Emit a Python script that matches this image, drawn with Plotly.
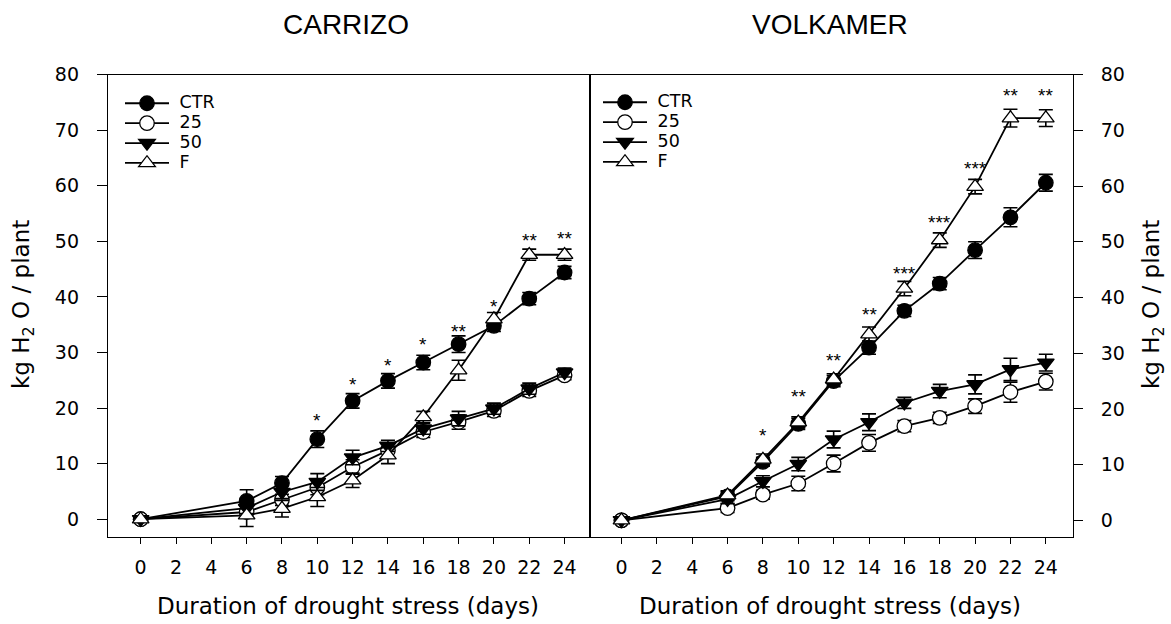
import plotly.graph_objects as go

days = [0, 6, 8, 10, 12, 14, 16, 18, 20, 22, 24]
x_ticks = [0, 2, 4, 6, 8, 10, 12, 14, 16, 18, 20, 22, 24]
y_ticks = [0, 10, 20, 30, 40, 50, 60, 70, 80]

# CARRIZO
car_ctr = [0, 3.3, 6.5, 14.4, 21.3, 24.9, 28.2, 31.5, 34.8, 39.7, 44.4]
car_ctr_err = [0.3, 2.0, 1.2, 1.5, 1.3, 1.3, 1.3, 1.5, 1.0, 1.1, 1.1]
car_25 = [0, 1.3, 3.5, 5.7, 9.4, 12.4, 15.7, 17.5, 19.5, 23.1, 25.9]
car_25_err = [0.3, 1.0, 1.0, 1.3, 1.3, 1.2, 1.0, 1.3, 1.0, 1.0, 0.8]
car_50 = [0, 2.0, 4.9, 6.7, 11.1, 13.2, 16.3, 18.1, 19.9, 23.5, 26.4]
car_50_err = [0.3, 1.0, 1.2, 1.5, 1.3, 1.0, 1.0, 1.3, 1.0, 1.0, 0.8]
car_f = [0, 0.7, 1.9, 4.0, 7.0, 11.5, 18.4, 26.8, 36.0, 47.6, 47.6]
car_f_err = [0.3, 2.0, 1.5, 1.7, 1.3, 1.5, 1.0, 1.8, 1.2, 1.0, 1.0]
car_sig_x = [10, 12, 14, 16, 18, 20, 22, 24]
car_sig_y = [18.4, 24.9, 28.3, 32.1, 34.5, 39.0, 50.9, 51.2]
car_sig = ["*", "*", "*", "*", "**", "*", "**", "**"]

# VOLKAMER
vol_ctr = [0, 4.3, 10.5, 17.3, 25.0, 31.0, 37.6, 42.5, 48.5, 54.4, 60.6]
vol_ctr_err = [0.3, 0.8, 0.8, 1.0, 1.0, 1.2, 1.0, 1.1, 1.5, 1.7, 1.5]
vol_25 = [0, 2.2, 4.6, 6.6, 10.2, 13.9, 16.9, 18.4, 20.5, 23.0, 24.9]
vol_25_err = [0.3, 0.8, 0.8, 1.3, 1.5, 1.5, 1.0, 1.0, 1.3, 1.8, 1.5]
vol_50 = [0, 3.8, 7.0, 10.1, 14.5, 17.6, 21.1, 23.2, 24.4, 27.1, 28.3]
vol_50_err = [0.3, 0.8, 1.0, 1.2, 1.5, 1.5, 1.0, 1.2, 1.7, 2.0, 1.5]
vol_f = [0, 4.5, 10.9, 17.6, 25.3, 33.4, 41.6, 50.3, 59.9, 72.2, 72.2]
vol_f_err = [0.3, 0.8, 1.0, 1.0, 1.0, 1.3, 1.3, 1.3, 1.3, 1.6, 1.5]
vol_sig_x = [8, 10, 12, 14, 16, 18, 20, 22, 24]
vol_sig_y = [16.0, 22.9, 29.4, 37.7, 45.1, 54.2, 63.8, 76.9, 76.9]
vol_sig = ["*", "**", "**", "**", "***", "***", "***", "**", "**"]

series_names = ["CTR", "25", "50", "F"]
symbols = ["circle", "circle", "triangle-down", "triangle-up"]
fills = ["black", "white", "black", "white"]

W, H = 1171, 624
FONT = "DejaVu Sans"

fig = go.Figure()

def add_panel(vals, errs, xa, ya, legend):
    for name, v, e, sym, fc in zip(series_names, vals, errs, symbols, fills):
        fig.add_trace(go.Scatter(
            x=days, y=v, mode="lines+markers",
            name='<span style="font-size:17.5px">\u00a0' + name + '</span>',
            xaxis=xa, yaxis=ya, legend=legend,
            line=dict(color="black", width=1.8),
            marker=dict(symbol=sym, size=14.5, color=fc,
                        line=dict(color="black", width=1.3)),
            error_y=dict(type="data", array=e, visible=True,
                         color="black", thickness=1.6, width=7),
            showlegend=True,
        ))

add_panel([car_ctr, car_25, car_50, car_f],
          [car_ctr_err, car_25_err, car_50_err, car_f_err], "x", "y", "legend")
add_panel([vol_ctr, vol_25, vol_50, vol_f],
          [vol_ctr_err, vol_25_err, vol_50_err, vol_f_err], "x2", "y2", "legend2")

def px(x):
    return x / W

def py(y):
    return 1 - y / H

xdom1 = [px(108), px(590)]
xdom2 = [px(590), px(1072.7)]
ydom = [py(537), py(74.7)]

axis_common = dict(showline=True, linecolor="black", linewidth=1.3, mirror=True,
                   showgrid=False, zeroline=False, ticks="outside", automargin=False,
                   tickcolor="black", tickfont=dict(family=FONT, size=19, color="black"))

leg_common = dict(xanchor="left", yanchor="top", bgcolor="rgba(0,0,0,0)",
                  itemwidth=44, tracegroupgap=0,
                  font=dict(family=FONT, size=13, color="black"))

fig.update_layout(
    width=W, height=H, margin=dict(l=0, r=0, t=0, b=0, pad=0, autoexpand=False),
    paper_bgcolor="white", plot_bgcolor="white",
    font=dict(family=FONT, color="black"),
    xaxis=dict(domain=xdom1, range=[-1.85, 25.44], tickvals=x_ticks, ticklen=6,
               ticklabelstandoff=7, anchor="y", **axis_common),
    yaxis=dict(domain=ydom, range=[-3.2, 80], tickvals=y_ticks, ticklen=10,
               ticklabelstandoff=14, anchor="x", side="left", **axis_common),
    xaxis2=dict(domain=xdom2, range=[-1.78, 25.52], tickvals=x_ticks, ticklen=6,
                ticklabelstandoff=7, anchor="y2", **axis_common),
    yaxis2=dict(domain=ydom, range=[-3.0, 80], tickvals=y_ticks, ticklen=9,
                ticklabelstandoff=14, anchor="x2", side="right", **axis_common),
    legend=dict(x=px(120), y=py(88.3), **leg_common),
    legend2=dict(x=px(598), y=py(87.3), **leg_common),
)

ann = []
for xs, ys, ts, xr, yr in [(car_sig_x, car_sig_y, car_sig, "x", "y"),
                           (vol_sig_x, vol_sig_y, vol_sig, "x2", "y2")]:
    for xv, yv, t in zip(xs, ys, ts):
        ann.append(dict(x=xv, y=yv, xref=xr, yref=yr, text=t, showarrow=False,
                        yanchor="middle", yshift=-4,
                        font=dict(family="Liberation Sans", size=19, color="black")))

title_font = dict(family="Liberation Sans", size=28, color="black")
label_font = dict(family=FONT, size=23, color="black")
ann += [
    dict(x=px(346), y=py(25), xref="paper", yref="paper", text="CARRIZO",
         showarrow=False, font=title_font, xanchor="center", yanchor="middle"),
    dict(x=px(830), y=py(25), xref="paper", yref="paper", text="VOLKAMER",
         showarrow=False, font=title_font, xanchor="center", yanchor="middle"),
    dict(x=px(348), y=py(606), xref="paper", yref="paper",
         text="Duration of drought stress (days)",
         showarrow=False, font=label_font, xanchor="center", yanchor="middle"),
    dict(x=px(830), y=py(606), xref="paper", yref="paper",
         text="Duration of drought stress (days)",
         showarrow=False, font=label_font, xanchor="center", yanchor="middle"),
    dict(x=px(23), y=py(305), xref="paper", yref="paper",
         text="kg H<sub>2</sub> O / plant", textangle=-90,
         showarrow=False, font=label_font, xanchor="center", yanchor="middle"),
    dict(x=px(1153), y=py(305), xref="paper", yref="paper",
         text="kg H<sub>2</sub> O / plant", textangle=-90,
         showarrow=False, font=label_font, xanchor="center", yanchor="middle"),
]
fig.update_layout(annotations=ann)

fig.write_html("out.html", config={"displayModeBar": False},
               post_script="document.body.style.margin='0px';document.body.style.padding='0px';")
